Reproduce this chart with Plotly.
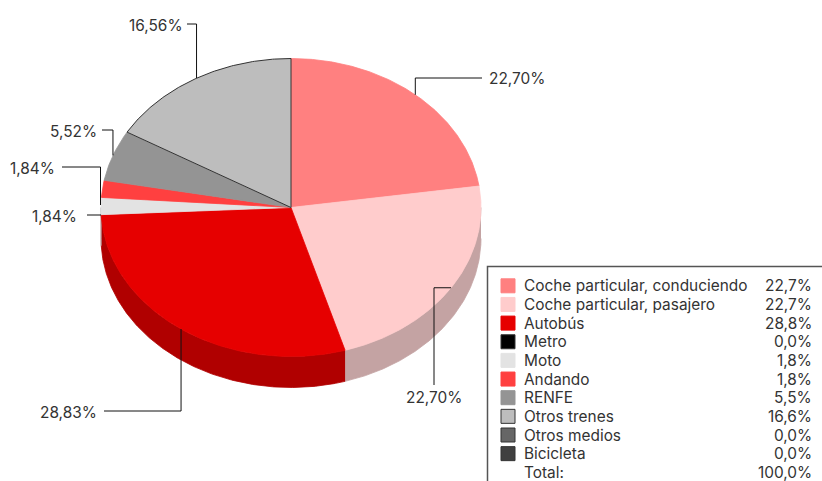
import math
import plotly.graph_objects as go

categories = ["Coche particular, conduciendo", "Coche particular, pasajero", "Autobús", "Metro", "Moto",
              "Andando", "RENFE", "Otros trenes", "Otros medios", "Bicicleta"]
values = [22.70, 22.70, 28.83, 0.0, 1.84, 1.84, 5.52, 16.56, 0.0, 0.0]
top_colors = ["#ff8080", "#ffcccc", "#e60000", "#000000", "#e3e3e3", "#ff4040", "#949494", "#bdbdbd", "#666666", "#404040"]
side_colors = ["#c4a3a3", "#c4a3a3", "#b00000", "#000000", "#b5b5b5", "#cc3333", "#767676", "#979797", "#525252", "#333333"]
outlined = ["Metro", "Otros trenes", "Otros medios", "Bicicleta"]
total_label = "Total:"

FONT = "Inter"
FS = 15.4
TXT = "#333333"
CX, CY, RX, RY, DEPTH = 291, 207.5, 190, 149, 31

def pt(deg, dy=0):
    a = math.radians(deg)
    return CX + RX * math.sin(a), CY - RY * math.cos(a) + dy

def arc(a0, a1, dy=0):
    n = max(2, int(abs(a1 - a0)) * 2)
    return [pt(a0 + (a1 - a0) * i / n, dy) for i in range(n + 1)]

fig = go.Figure()

def poly(points, fill, line=None, width=0.8):
    xs, ys = zip(*points)
    fig.add_trace(go.Scatter(x=list(xs), y=list(ys), mode="lines", fill="toself", fillcolor=fill,
                             line=dict(color=line or fill, width=width), hoverinfo="skip", showlegend=False))

total = sum(values)
angles, cum = [], 0.0
for v in values:
    angles.append((cum / total * 360, (cum + v) / total * 360))
    cum += v

for (a0, a1), v, c in zip(angles, values, side_colors):
    lo, hi = max(a0, 90), min(a1, 270)
    if v > 0 and hi > lo:
        poly(arc(lo, hi) + arc(hi, lo, DEPTH), c)

for (a0, a1), v, c, name in zip(angles, values, top_colors, categories):
    if v > 0:
        edge = "#333333" if name in outlined else None
        poly([(CX, CY)] + arc(a0, a1) + [(CX, CY)], c, edge, 1 if edge else 0.8)

label_spec = {
    0: ((489, 78, "left"), lambda p: [p, (p[0], 78), (482, 78)]),
    1: ((434, 397, "center"), lambda p: [p, (434, p[1]), (434, 385)]),
    2: ((97, 412, "right"), lambda p: [p, (p[0], 411), (104, 411)]),
    4: ((77, 216, "right"), lambda p: [(101, 215), (87, 215)]),
    5: ((55, 168, "right"), lambda p: [(100.5, 205), (100.5, 167), (62, 167)]),
    6: ((97, 131, "right"), lambda p: [p, (p[0], 130), (102, 130)]),
    7: ((183, 25, "right"), lambda p: [p, (p[0], 24), (187, 24)]),
}
annotations = []
def text(x, y, s, anchor="left"):
    annotations.append(dict(x=x, y=y, xref="x", yref="y", text=s, showarrow=False, xanchor=anchor, yanchor="middle",
                            borderpad=0, borderwidth=0, font=dict(family=FONT, size=FS, color=TXT)))
for i, ((tx, ty, anc), path) in label_spec.items():
    a0, a1 = angles[i]
    pts = path(pt((a0 + a1) / 2))
    xs, ys = zip(*pts)
    fig.add_trace(go.Scatter(x=list(xs), y=list(ys), mode="lines", line=dict(color="#111111", width=1),
                             hoverinfo="skip", showlegend=False))
    text(tx, ty, f"{values[i]:.2f}%".replace(".", ","), anc)

shapes = [dict(type="rect", xref="x", yref="y", x0=487.5, y0=266.5, x1=840, y1=500,
               line=dict(color="#555555", width=1.5), fillcolor="white", layer="between")]
ROW0, ROW = 285.8, 18.65
for i, (name, v, c) in enumerate(zip(categories, values, top_colors)):
    y = ROW0 + i * ROW
    edge = "#333333" if name in outlined else c
    shapes.append(dict(type="rect", xref="x", yref="y", x0=501, x1=515, y0=y - 7, y1=y + 7,
                       fillcolor=c, line=dict(color=edge, width=1), layer="above"))
    text(524, y, name)
    text(812, y, f"{v:.1f}%".replace(".", ","), "right")
y = ROW0 + len(categories) * ROW
text(524, y, total_label)
text(812, y, f"{total:.1f}%".replace(".", ","), "right")

fig.update_layout(width=822, height=481, margin=dict(l=0, r=0, t=0, b=0), paper_bgcolor="white", plot_bgcolor="white",
                  showlegend=False, shapes=shapes, annotations=annotations,
                  xaxis=dict(range=[0, 822], visible=False, fixedrange=True),
                  yaxis=dict(range=[481, 0], visible=False, fixedrange=True))
fig.write_html("out.html", config={"displayModeBar": False},
               post_script="document.body.style.margin='0';document.body.style.overflow='hidden';")
